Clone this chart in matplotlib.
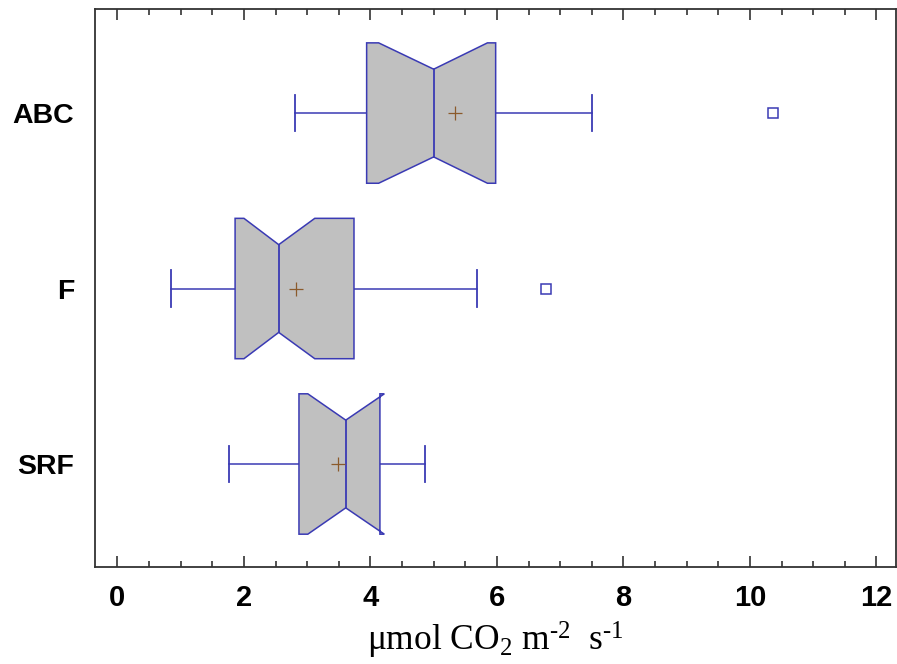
import numpy as np
import matplotlib.pyplot as plt
from matplotlib.ticker import MultipleLocator

plt.rcParams['mathtext.fontset'] = 'custom'
plt.rcParams['mathtext.rm'] = 'Liberation Serif'
plt.rcParams['mathtext.it'] = 'Liberation Serif:italic'

# Soil CO2 efflux per site: notched box plots (horizontal)
sites = ['SRF', 'F', 'ABC']
whisker_lo = [1.76, 0.85, 2.80]
q1 = [2.87, 1.86, 3.94]
notch_lo = [3.01, 2.00, 4.13]
median = [3.61, 2.55, 5.00]
notch_hi = [4.22, 3.12, 5.85]
q3 = [4.15, 3.74, 5.98]
whisker_hi = [4.86, 5.69, 7.51]
means = [3.48, 2.82, 5.33]
outliers = [[], [6.77], [10.37]]

edge = '#3a3ab4'
fill = '#c0c0c0'
mean_color = '#8b5a2b'

fig = plt.figure(figsize=(8.97, 6.64), dpi=100)
ax = fig.add_axes([95 / 897, 1 - 567 / 664, 801 / 897, 558 / 664])

half = 0.40      # half box height
inner = 0.25     # half height at the notch
cap = 0.105      # half whisker cap

for i, name in enumerate(sites):
    c = i + 1
    xs = [q1[i], notch_lo[i], median[i], notch_hi[i], q3[i],
          q3[i], notch_hi[i], median[i], notch_lo[i], q1[i]]
    ys = [c - half, c - half, c - inner, c - half, c - half,
          c + half, c + half, c + inner, c + half, c + half]
    ax.fill(xs, ys, facecolor=fill, edgecolor=edge, linewidth=1.1, zorder=2)
    # median line
    ax.plot([median[i], median[i]], [c - inner, c + inner], color=edge, lw=1.3, zorder=3)
    # whiskers and caps
    ax.plot([whisker_lo[i], q1[i]], [c, c], color=edge, lw=1.1, zorder=1)
    ax.plot([q3[i], whisker_hi[i]], [c, c], color=edge, lw=1.1, zorder=1)
    for w in (whisker_lo[i], whisker_hi[i]):
        ax.plot([w, w], [c - cap, c + cap], color=edge, lw=1.3, zorder=1)
    # mean
    ax.plot(means[i], c, marker='+', color=mean_color, markersize=10,
            markeredgewidth=0.9, zorder=4)
    # outliers
    for o in outliers[i]:
        ax.plot(o, c, marker='s', markersize=7.5, markerfacecolor='white',
                markeredgecolor=edge, markeredgewidth=1.1, zorder=4)

ax.set_xlim(-0.355, 12.31)
ax.set_ylim(0.413, 3.593)
ax.set_yticks([1, 2, 3])
ax.set_yticklabels(sites, fontsize=20.5, fontweight='bold', family='Liberation Sans')
ax.tick_params(axis='y', length=0, pad=15)

ax.xaxis.set_major_locator(MultipleLocator(2))
ax.xaxis.set_minor_locator(MultipleLocator(0.5))
ax.tick_params(axis='x', which='both', direction='in', top=True, bottom=True,
               color='#333333', width=1.2)
ax.tick_params(axis='x', which='major', length=8, pad=12)
ax.tick_params(axis='x', which='minor', length=4)
for lab in ax.get_xticklabels():
    lab.set_fontsize(21)
    lab.set_fontweight('bold')
    lab.set_family('Liberation Sans')

for s in ax.spines.values():
    s.set_color('#333333')
    s.set_linewidth(1.3)

ax.set_xlabel(r'μmol CO$_2$ m$^{\text{-}2}$  s$^{\text{-}1}$', fontsize=25.5,
              family='Liberation Serif', labelpad=6)

plt.savefig('out.png', dpi=100)
plt.close()
